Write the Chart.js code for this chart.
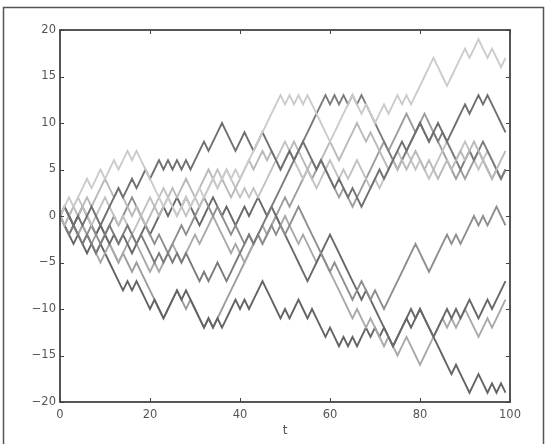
<!DOCTYPE html>
<html>
<head>
<meta charset="utf-8">
<script src="https://cdn.jsdelivr.net/npm/chart.js@4.4.1/dist/chart.umd.min.js"></script>
<style>
  html, body { margin: 0; padding: 0; background: #fff; }
  canvas { display: block; }
</style>
</head>
<body>
<canvas id="walkCanvas" width="547" height="444"></canvas>
<script>
// random walks, one value per step t = 0..99
var walkA = [0,1,2,1,2,3,4,3,4,5, 4,5,6,5,6,7,6,7,6,5, 4,3,2,1,2,1,0,1,2,1, 2,3,2,3,4,3,4,5,4,5,
             4,5,6,7,8,9,10,11,12,13, 12,13,12,13,12,13,12,11,10,9, 8,9,10,11,12,13,12,11,12,11,
             10,11,12,11,12,13,12,13,12,13, 14,15,16,17,16,15,14,15,16,17, 18,17,18,19,18,17,18,17,16,17];
var walkB = [0,1,0,-1,0,-1,0,1,0,-1, 0,1,2,3,2,3,4,3,4,5, 4,5,6,5,6,5,6,5,6,5, 6,7,8,7,8,9,10,9,8,7,
             8,9,8,7,8,9,8,7,6,5, 6,7,6,7,8,7,6,5,6,5, 4,3,4,3,2,3,2,1,2,3,
             4,5,4,5,6,7,8,7,8,9, 10,9,8,9,10,9,8,9,10,11, 12,11,12,13,12,13,12,11,10,9];
var walkC = [0,-1,0,1,0,1,2,1,2,3, 4,3,2,3,2,1,0,1,0,-1, 0,1,0,1,2,3,2,3,4,3, 2,3,4,5,4,3,4,3,2,3,
             4,5,6,5,6,7,6,7,6,5, 6,7,8,7,6,5,6,5,6,7, 8,7,6,7,8,9,10,9,8,9,
             8,7,6,5,6,5,6,5,6,7, 6,5,6,5,4,5,6,5,6,7, 6,7,8,7,6,5,4,5,6,7];
var walkD = [0,-1,-2,-1,-2,-3,-2,-3,-4,-3, -2,-1,-2,-3,-2,-1,-2,-3,-2,-3, -4,-5,-4,-5,-4,-5,-4,-5,-4,-5,
             -6,-7,-6,-7,-6,-5,-6,-7,-6,-5, -4,-3,-2,-3,-2,-1,0,1,2,3, 4,5,6,7,8,9,10,11,12,13,
             12,13,12,13,12,13,12,13,12,11, 10,9,8,7,6,5,6,7,8,9, 10,9,8,9,8,9,8,7,6,5, 6,7,6,7,8,7,6,5,4,5];
var walkE = [0,1,0,1,2,1,0,-1,0,1, 2,1,0,-1,0,-1,-2,-1,0,1, 2,1,2,3,2,1,0,1,0,1, 2,1,2,3,4,5,4,5,4,3,
             2,3,2,3,2,3,4,5,6,7, 8,7,6,5,4,5,4,3,4,5, 6,5,4,5,4,5,6,5,4,3,
             4,3,4,5,6,7,6,7,6,5, 6,5,4,5,6,7,8,7,6,7, 8,7,6,5,6,7,6,5,4,5];
var walkF = [0,-1,-2,-1,-2,-3,-2,-1,-2,-3, -2,-1,0,-1,0,1,2,1,0,-1, -2,-3,-2,-3,-4,-3,-2,-1,-2,-1,
             0,1,2,1,0,1,0,-1,-2,-1, -2,-3,-2,-3,-2,-3,-2,-1,-2,-1, -2,-1,0,1,0,-1,-2,-3,-4,-5,
             -6,-5,-6,-7,-8,-9,-8,-7,-8,-9, -8,-9,-10,-9,-8,-7,-6,-5,-4,-3, -4,-5,-6,-5,-4,-3,-2,-3,-2,-3,
             -2,-1,0,-1,0,-1,0,1,0,-1];
var walkG = [0,1,0,-1,0,1,0,-1,-2,-1, -2,-3,-2,-3,-2,-3,-4,-3,-2,-1, -2,-1,0,1,0,1,2,1,2,1,
             0,-1,0,1,2,1,0,1,0,-1, 0,1,0,1,2,1,0,1,0,-1, -2,-3,-4,-5,-6,-7,-6,-5,-4,-3,
             -2,-3,-4,-5,-6,-7,-8,-9,-8,-9, -10,-11,-12,-13,-14,-13,-12,-11,-10,-11,
             -10,-11,-12,-13,-12,-11,-10,-11,-10,-11, -10,-9,-10,-11,-10,-9,-10,-9,-8,-7];
var walkH = [0,-1,0,-1,-2,-1,-2,-3,-4,-5, -4,-3,-4,-5,-4,-3,-2,-3,-4,-5, -6,-5,-6,-5,-4,-3,-4,-5,-4,-3,
             -2,-3,-2,-1,0,-1,-2,-3,-4,-3, -4,-5,-4,-3,-2,-1,-2,-1,0,-1, 0,-1,-2,-3,-2,-3,-4,-5,-4,-5,
             -6,-7,-8,-9,-10,-11,-10,-11,-12,-11, -12,-13,-14,-13,-14,-15,-14,-13,-14,-15,
             -16,-15,-14,-13,-12,-11,-12,-11,-12,-11, -10,-11,-12,-13,-12,-11,-12,-11,-10,-9];
var walkI = [0,-1,-2,-3,-2,-3,-4,-3,-4,-3, -4,-5,-6,-7,-8,-7,-8,-7,-8,-9, -10,-9,-10,-11,-10,-9,-8,-9,-8,-9,
             -10,-11,-12,-11,-12,-11,-12,-11,-10,-9, -10,-9,-10,-9,-8,-7,-8,-9,-10,-11,
             -10,-11,-10,-9,-10,-11,-10,-11,-12,-13, -12,-13,-14,-13,-14,-13,-14,-13,-12,-13,
             -12,-13,-12,-13,-14,-13,-12,-11,-12,-11, -10,-11,-12,-13,-14,-15,-16,-17,-16,-17,
             -18,-19,-18,-17,-18,-19,-18,-19,-18,-19];
var walkJ = [0,1,0,-1,-2,-1,-2,-3,-2,-1, -2,-3,-4,-5,-4,-5,-6,-5,-6,-7, -8,-9,-10,-11,-10,-9,-8,-9,-10,-9,
             -10,-11,-12,-11,-12,-11,-10,-9,-8,-7, -6,-5,-4,-3,-2,-3,-2,-1,0,1, 2,1,2,3,4,5,4,5,6,5,
             4,3,2,3,2,1,2,3,4,5, 6,7,8,7,8,9,10,11,10,9, 10,11,10,9,8,7,6,5,4,5, 4,5,6,7,6,5,4,5,4,5];

var walks = [walkA, walkB, walkC, walkD, walkE, walkF, walkG, walkH, walkI, walkJ];
var walkColors = ['#cbcbcb', '#6f6f6f', '#b9b9b9', '#7b7b7b', '#c2c2c2',
                  '#8e8e8e', '#686868', '#a9a9a9', '#636363', '#9d9d9d'];

var xTicks = [0, 20, 40, 60, 80, 100];
var yTicks = [-20, -15, -10, -5, 0, 5, 10, 15, 20];

var datasets = walks.map(function(w, k) {
  return {
    data: w.map(function(v, t) { return { x: t, y: v }; }),
    borderColor: walkColors[k],
    borderWidth: 1.9,
    pointRadius: 0,
    tension: 0,
    fill: false
  };
});

// outer frame, plot box, inward ticks like matplotlib
var framePlugin = {
  id: 'framePlugin',
  beforeDraw: function(chart) {
    var c = chart.ctx;
    c.save();
    c.fillStyle = '#fff';
    c.fillRect(0, 0, chart.width, chart.height);
    c.strokeStyle = '#555';
    c.lineWidth = 1.5;
    c.beginPath();
    c.moveTo(3.5, 444);
    c.lineTo(3.5, 7.5);
    c.lineTo(543.5, 7.5);
    c.lineTo(543.5, 444);
    c.stroke();
    c.restore();
  },
  afterDatasetsDraw: function(chart) {
    var c = chart.ctx, a = chart.chartArea;
    var xs = chart.scales.x, ys = chart.scales.y;
    c.save();
    c.strokeStyle = '#444';
    c.lineWidth = 1.8;
    c.strokeRect(a.left, a.top, a.right - a.left, a.bottom - a.top);
    c.lineWidth = 1;
    c.beginPath();
    xTicks.forEach(function(t) {
      var px = Math.round(xs.getPixelForValue(t)) + 0.5;
      c.moveTo(px, a.bottom); c.lineTo(px, a.bottom - 4);
      c.moveTo(px, a.top); c.lineTo(px, a.top + 4);
    });
    yTicks.forEach(function(v) {
      var py = Math.round(ys.getPixelForValue(v)) + 0.5;
      c.moveTo(a.left, py); c.lineTo(a.left + 4, py);
      c.moveTo(a.right, py); c.lineTo(a.right - 4, py);
    });
    c.stroke();
    c.restore();
  }
};

new Chart(document.getElementById('walkCanvas'), {
  type: 'line',
  data: { datasets: datasets },
  options: {
    responsive: false,
    animation: false,
    devicePixelRatio: 1,
    layout: { padding: { top: 30, right: 37, left: 0, bottom: 0 } },
    plugins: { legend: { display: false }, tooltip: { enabled: false } },
    scales: {
      x: {
        type: 'linear',
        min: 0, max: 100,
        afterBuildTicks: function(s) { s.ticks = xTicks.map(function(v) { return { value: v }; }); },
        afterFit: function(s) { s.height = 42; },
        grid: { display: false, drawTicks: false },
        border: { display: false },
        ticks: { color: '#555', padding: 6, font: { family: 'DejaVu Sans', size: 11.5 } },
        title: { display: true, text: 't', color: '#555', padding: { top: 0, bottom: 6 },
                 font: { family: 'DejaVu Sans', size: 12 } }
      },
      y: {
        min: -20, max: 20,
        afterBuildTicks: function(s) { s.ticks = yTicks.map(function(v) { return { value: v }; }); },
        afterFit: function(s) { s.width = 60; },
        grid: { display: false, drawTicks: false },
        border: { display: false },
        ticks: {
          color: '#555', padding: 4, font: { family: 'DejaVu Sans', size: 11.5 },
          callback: function(v) { return v < 0 ? '\u2212' + Math.abs(v) : String(v); }
        }
      }
    }
  },
  plugins: [framePlugin]
});
</script>
</body>
</html>
